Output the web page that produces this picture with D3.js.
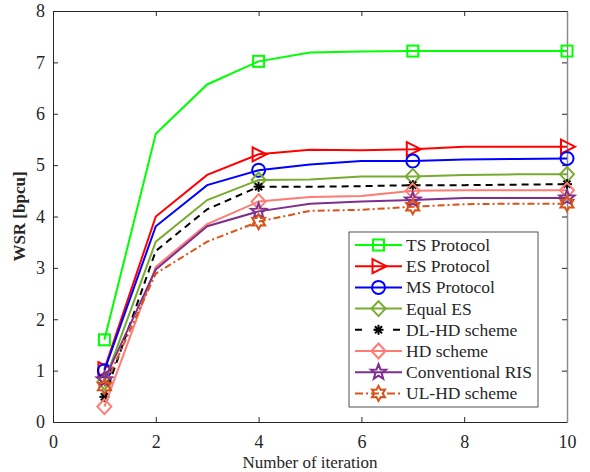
<!DOCTYPE html>
<html>
<head>
<meta charset="utf-8">
<script src="https://cdn.jsdelivr.net/npm/d3@7"></script>
<style>
  body { margin: 0; background: #fff; }
  svg text { font-family: "Liberation Serif", "Times New Roman", serif; fill: #262626; }
</style>
</head>
<body>
<svg id="chart" width="590" height="472"></svg>
<script>
// iterations
var iterations = [1, 2, 3, 4, 5, 6, 7, 8, 9, 10];

// WSR per scheme
var tsProtocol   = [1.60, 5.61, 6.57, 7.02, 7.19, 7.21, 7.22, 7.22, 7.22, 7.22];
var esProtocol   = [1.03, 4.00, 4.81, 5.21, 5.30, 5.29, 5.31, 5.36, 5.36, 5.36];
var msProtocol   = [1.00, 3.81, 4.61, 4.90, 5.01, 5.08, 5.08, 5.11, 5.12, 5.13];
var equalES      = [0.78, 3.51, 4.32, 4.71, 4.72, 4.78, 4.78, 4.81, 4.82, 4.82];
var dlHD         = [0.49, 3.33, 4.14, 4.58, 4.58, 4.59, 4.61, 4.61, 4.62, 4.63];
var hdScheme     = [0.30, 3.02, 3.85, 4.29, 4.38, 4.40, 4.50, 4.51, 4.51, 4.51];
var convRIS      = [0.82, 2.97, 3.81, 4.10, 4.25, 4.29, 4.32, 4.36, 4.36, 4.36];
var ulHD         = [0.69, 2.89, 3.51, 3.90, 4.11, 4.13, 4.19, 4.24, 4.25, 4.25];

var xTicks = [0, 2, 4, 6, 8, 10];
var yTicks = [0, 1, 2, 3, 4, 5, 6, 7, 8];
var markerIdx = [0, 3, 6, 9];

var series = [
  { name: "TS Protocol", values: tsProtocol, color: "#00ff00", marker: "square", dash: null },
  { name: "ES Protocol", values: esProtocol, color: "#ff0000", marker: "triangleRight", dash: null },
  { name: "MS Protocol", values: msProtocol, color: "#0000ff", marker: "circle", dash: null },
  { name: "Equal ES", values: equalES, color: "#77ac30", marker: "diamond", dash: null },
  { name: "DL-HD scheme", values: dlHD, color: "#000000", marker: "asterisk", dash: "7,5" },
  { name: "HD scheme", values: hdScheme, color: "#ff7b73", marker: "diamond", dash: null },
  { name: "Conventional RIS", values: convRIS, color: "#7e2f8e", marker: "pentagram", dash: null },
  { name: "UL-HD scheme", values: ulHD, color: "#d95319", marker: "hexagram", dash: "7,3,2,3" }
];

var svg = d3.select("#chart");
var margin = { left: 53, top: 11, right: 567, bottom: 422 };

var x = d3.scaleLinear().domain([0, 10]).range([margin.left, margin.right]);
var y = d3.scaleLinear().domain([0, 8]).range([margin.bottom, margin.top]);

// axes box
var axisColor = "#262626";
var gx = svg.append("g").attr("transform", "translate(0," + margin.bottom + ")")
  .call(d3.axisBottom(x).tickValues(xTicks).tickSizeInner(-5).tickSizeOuter(0).tickPadding(13));
var gxTop = svg.append("g").attr("transform", "translate(0," + margin.top + ")")
  .call(d3.axisTop(x).tickValues(xTicks).tickSizeInner(-5).tickSizeOuter(0).tickFormat(""));
var gy = svg.append("g").attr("transform", "translate(" + margin.left + ",0)")
  .call(d3.axisLeft(y).tickValues(yTicks).tickSizeInner(-5).tickSizeOuter(0).tickPadding(8));
var gyRight = svg.append("g").attr("transform", "translate(" + margin.right + ",0)")
  .call(d3.axisRight(y).tickValues(yTicks).tickSizeInner(-5).tickSizeOuter(0).tickFormat(""));

[gx, gxTop, gy, gyRight].forEach(function(g) {
  g.attr("font-family", "Liberation Serif");
  g.selectAll("path").attr("stroke", axisColor).attr("stroke-width", 1);
  g.selectAll("line").attr("stroke", axisColor);
  g.selectAll("text").style("font-size", "18px").attr("fill", axisColor)
    .style("font-family", "'Liberation Serif', serif");
});
gyRight.select("path").attr("stroke", "#8c8c8c").attr("stroke-width", 1.5);

// axis labels
svg.append("text")
  .attr("x", (margin.left + margin.right) / 2)
  .attr("y", 468)
  .attr("text-anchor", "middle")
  .style("font-size", "17px")
  .text("Number of iteration");

svg.append("text")
  .attr("transform", "translate(25," + ((margin.top + margin.bottom) / 2) + ") rotate(-90)")
  .attr("text-anchor", "middle")
  .style("font-size", "17px")
  .style("font-weight", "bold")
  .text("WSR [bpcu]");

// marker shapes
function starPath(points, outer, inner) {
  var pts = [];
  for (var i = 0; i < points * 2; i++) {
    var r = i % 2 === 0 ? outer : inner;
    var a = -Math.PI / 2 + i * Math.PI / points;
    pts.push([r * Math.cos(a), r * Math.sin(a)]);
  }
  return "M" + pts.map(function(p) { return p[0].toFixed(2) + "," + p[1].toFixed(2); }).join("L") + "Z";
}

function drawMarker(g, type, cx, cy, color) {
  var m = g.append("g").attr("transform", "translate(" + cx + "," + cy + ")");
  var common = function(sel) {
    return sel.attr("fill", "none").attr("stroke", color).attr("stroke-width", 2);
  };
  if (type === "square") {
    common(m.append("rect").attr("x", -5.5).attr("y", -5.5).attr("width", 11).attr("height", 11));
  } else if (type === "triangleRight") {
    common(m.append("path").attr("d", "M-6,-7L8,0L-6,7Z"));
  } else if (type === "circle") {
    common(m.append("circle").attr("r", 6.5));
  } else if (type === "diamond") {
    common(m.append("path").attr("d", "M0,-7.5L7,0L0,7.5L-7,0Z"));
  } else if (type === "asterisk") {
    [0, 45, 90, 135].forEach(function(a) {
      m.append("line").attr("x1", -5).attr("x2", 5).attr("y1", 0).attr("y2", 0)
        .attr("transform", "rotate(" + a + ")")
        .attr("stroke", color).attr("stroke-width", 2);
    });
  } else if (type === "pentagram") {
    common(m.append("path").attr("d", starPath(5, 8, 3.4)));
  } else if (type === "hexagram") {
    common(m.append("path").attr("d", starPath(6, 7.5, 4.2)));
  }
}

var line = d3.line()
  .x(function(d, i) { return x(iterations[i]); })
  .y(function(d) { return y(d); });

var plot = svg.append("g");
series.forEach(function(s) {
  var path = plot.append("path")
    .datum(s.values)
    .attr("d", line)
    .attr("fill", "none")
    .attr("stroke", s.color)
    .attr("stroke-width", 2);
  if (s.dash) path.attr("stroke-dasharray", s.dash);
  markerIdx.forEach(function(i) {
    drawMarker(plot, s.marker, x(iterations[i]), y(s.values[i]), s.color);
  });
});

// legend
var legend = svg.append("g").attr("transform", "translate(349,232)");
legend.append("rect")
  .attr("width", 189).attr("height", 175)
  .attr("fill", "#fff").attr("stroke", "#262626").attr("stroke-width", 0.8);

series.forEach(function(s, i) {
  var row = legend.append("g").attr("transform", "translate(0," + (13 + i * 21.2) + ")");
  var l = row.append("line")
    .attr("x1", 6).attr("x2", 53).attr("y1", 0).attr("y2", 0)
    .attr("stroke", s.color).attr("stroke-width", 2);
  if (s.dash) l.attr("stroke-dasharray", s.dash === "7,5" ? "7,12" : "8,3,2,3");
  drawMarker(row, s.marker, 29.5, 0, s.color);
  row.append("text")
    .attr("x", 57).attr("y", 6)
    .style("font-size", "17.5px")
    .attr("fill", "#000")
    .text(s.name);
});
</script>
</body>
</html>
